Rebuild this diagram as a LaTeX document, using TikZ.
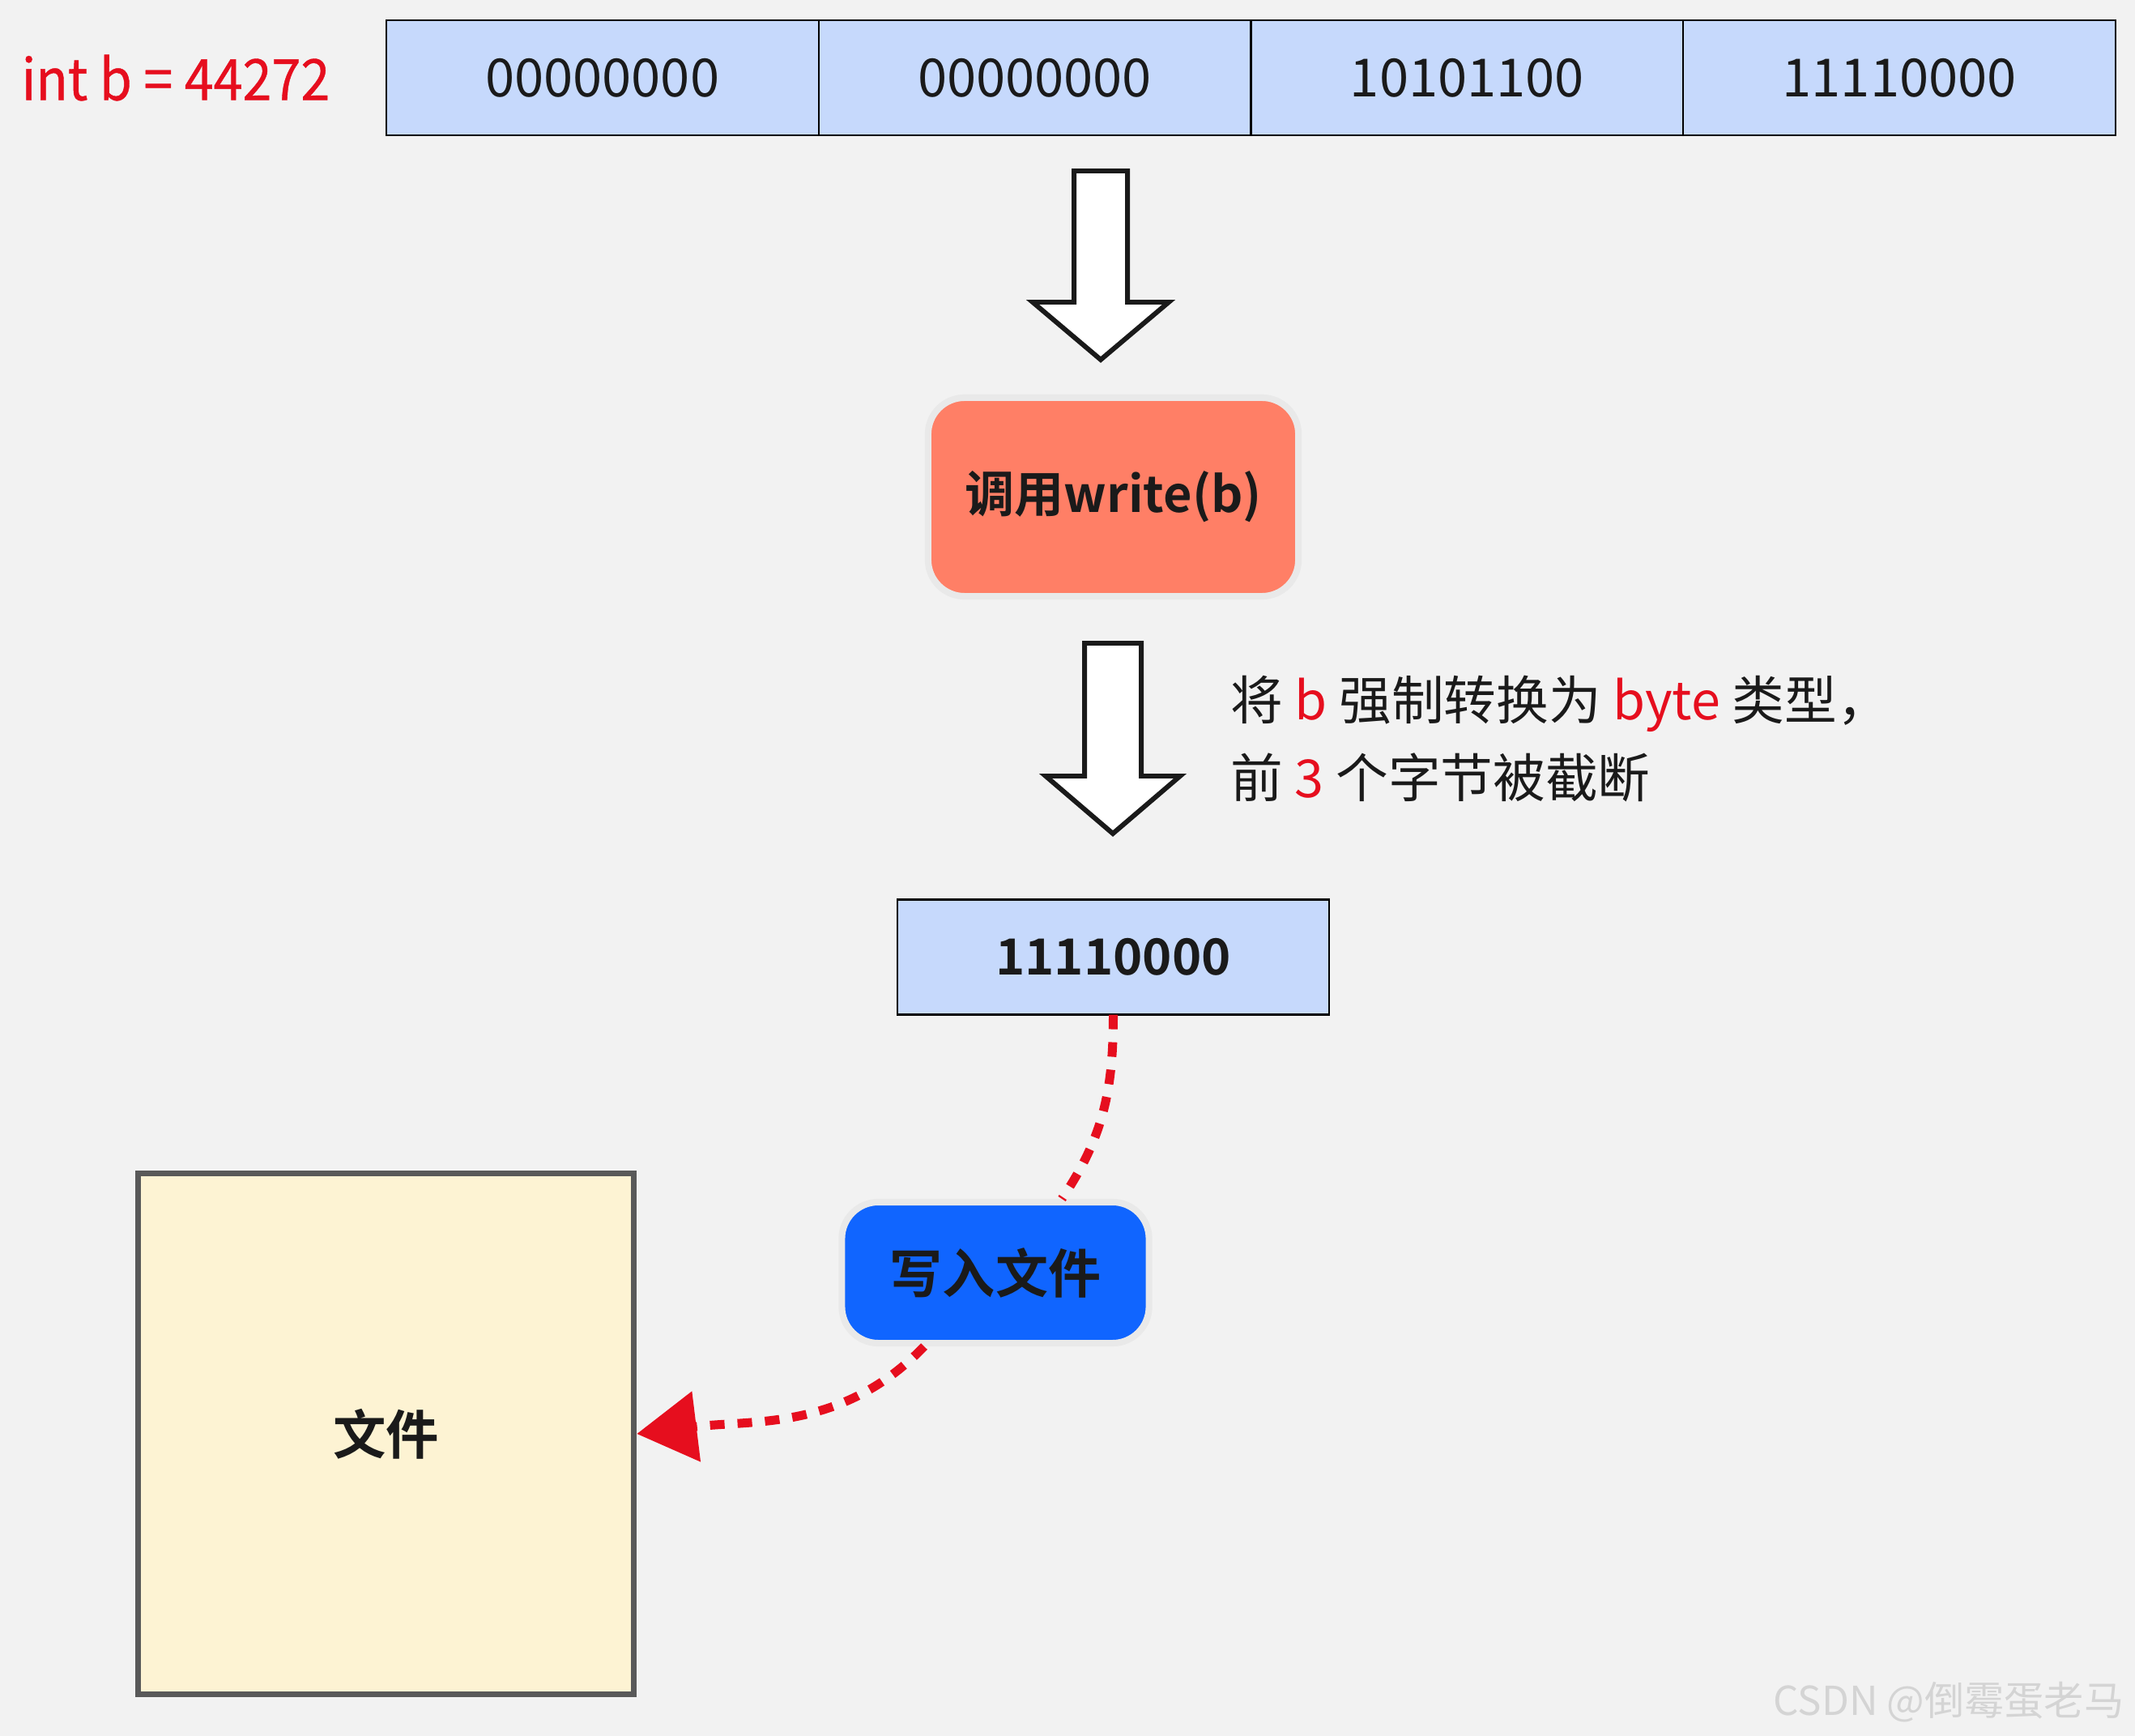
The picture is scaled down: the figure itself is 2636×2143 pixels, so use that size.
\documentclass[tikz,border=0pt]{standalone}
\usepackage{fontspec}
\setmainfont{Noto Sans CJK SC}[BoldFont={Noto Sans CJK SC Bold}]
\newfontfamily\narrowcjk{Noto Sans CJK SC}[FakeStretch=0.92, FakeBold=0.6]
\usetikzlibrary{positioning,arrows.meta}

\definecolor{bggray}{HTML}{F2F2F2}
\definecolor{cellblue}{HTML}{C6D9FC}
\definecolor{callred}{HTML}{FF7F66}
\definecolor{writeblue}{HTML}{1065FF}
\definecolor{filecream}{HTML}{FDF3D3}
\definecolor{fileedge}{HTML}{595959}
\definecolor{glow}{HTML}{E9E9E9}
\definecolor{hot}{HTML}{E60E1E}
\definecolor{ink}{HTML}{1A1A1A}

\tikzset{
  cell/.style={draw=black, line width=0.6pt, fill=cellblue, text=ink,
    minimum width=5.335cm, minimum height=1.42cm, inner sep=0pt, outer sep=0pt,
    font=\fontsize{18.5pt}{22pt}\selectfont},
  pill/.style={draw=glow, line width=2.3pt, rounded corners=0.45cm, text=ink,
    inner sep=0pt, font=\fontsize{17.4pt}{21pt}\selectfont\bfseries},
  fat/.style={draw=ink, line width=1.7pt, fill=white, line join=miter},
  wire/.style={draw=hot, line width=0.11cm, dash pattern=on 0.18cm off 0.16cm},
}

\begin{document}
\begin{tikzpicture}[x=0.01cm, y=0.01cm]
  \fill[bggray] (0,0) rectangle (2636,-2143);

  % the int and its four bytes
  \node[anchor=west, inner sep=0pt, text=hot, font=\narrowcjk\fontsize{20pt}{24pt}\selectfont] (intb) at (26,-96) {int b = 44272};
  \node[cell] (c1) at (743.75,-96) {00000000};
  \node[cell, right=0pt of c1] (c2) {00000000};
  \node[cell, right=0pt of c2] (c3) {10101100};
  \node[cell, right=0pt of c3] (c4) {11110000};

  % first block arrow
  \draw[fat] (1326,-211) -- (1392,-211) -- (1392,-373) -- (1443,-373)
    -- (1359,-444) -- (1275,-373) -- (1326,-373) -- cycle;

  \node[pill, fill=callred, minimum width=4.57cm, minimum height=2.45cm] (call) at (1374.5,-613.5) {调用write(b)};

  % second block arrow
  \draw[fat] (1339,-794) -- (1409,-794) -- (1409,-958) -- (1457,-958)
    -- (1374,-1029) -- (1291,-958) -- (1339,-958) -- cycle;

  \node[anchor=west, inner sep=0pt, align=left, text=ink,
    font=\fontsize{18.4pt}{27.3pt}\selectfont] (note) at (1519,-912)
    {将 {\color{hot}b} 强制转换为 {\color{hot}byte} 类型，\\前 {\color{hot}3} 个字节被截断};

  \node[cell, font=\fontsize{17.5pt}{21pt}\selectfont\bfseries] (res) at (1374.5,-1181.5) {11110000};

  \node[pill, fill=writeblue, minimum width=3.79cm, minimum height=1.74cm,
    font=\fontsize{18.5pt}{22pt}\selectfont\bfseries] (wr) at (1229,-1571) {写入文件};

  \node[draw=fileedge, line width=2pt, fill=filecream, minimum width=6.12cm, minimum height=6.43cm,
    text=ink, font=\fontsize{18.6pt}{22pt}\selectfont\bfseries] (file) at (476.5,-1770) {文件};

  % dotted write path
  \draw[wire] (res.south) to[out=-90, in=56] (wr.48);
  \draw[wire, -{Triangle[length=0.74cm, width=0.85cm]}] (wr.226) to[out=226, in=7] (file.east);

  \node[text=black!17, font=\fontsize{14pt}{16pt}\selectfont] (mark) at (2406,-2101) {CSDN @倒霉蛋老马};
\end{tikzpicture}
\end{document}
